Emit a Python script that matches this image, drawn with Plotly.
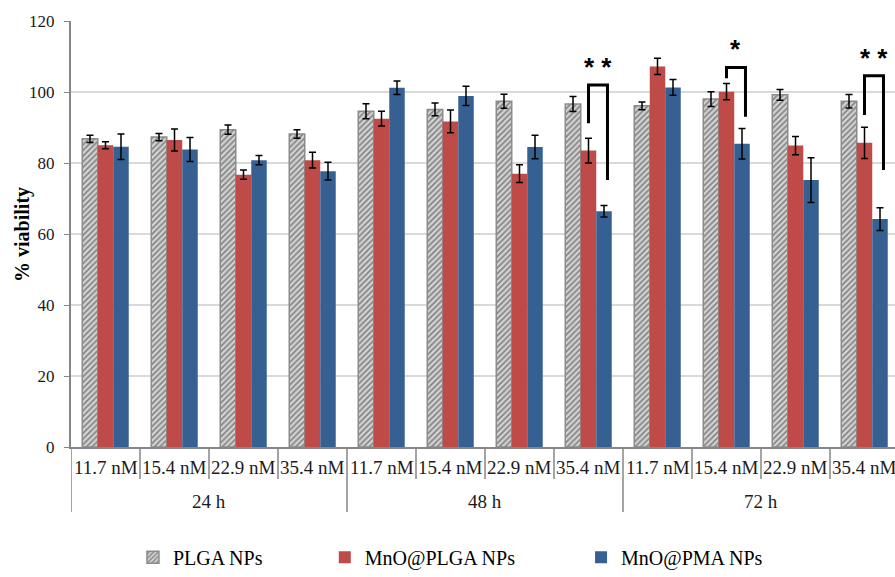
import plotly.graph_objects as go

# ---------------- data ----------------
categories = ["11.7 nM", "15.4 nM", "22.9 nM", "35.4 nM"] * 3
groups = ["24 h", "48 h", "72 h"]
per_group = 4

series_names = ["PLGA NPs", "MnO@PLGA NPs", "MnO@PMA NPs"]
plga = [86.8, 87.3, 89.4, 88.2, 94.6, 95.1, 97.4, 96.6, 96.1, 98.0, 99.2, 97.4]
plga_err = [1.0, 1.0, 1.3, 1.2, 2.1, 1.8, 2.0, 2.1, 1.1, 2.1, 1.5, 1.9]
mno_plga = [85.0, 86.5, 76.7, 80.8, 92.5, 91.7, 77.0, 83.5, 107.2, 100.1, 84.9, 85.7]
mno_plga_err = [1.0, 3.1, 1.3, 2.2, 2.1, 3.2, 2.5, 3.5, 2.3, 2.3, 2.6, 4.4]
mno_pma = [84.6, 83.8, 80.8, 77.7, 101.2, 98.9, 84.5, 66.4, 101.3, 85.4, 75.2, 64.2]
mno_pma_err = [3.6, 3.4, 1.3, 2.5, 1.9, 2.7, 3.3, 1.6, 2.2, 4.3, 6.3, 3.2]

y_ticks = [0, 20, 40, 60, 80, 100, 120]

# significance brackets: (category index, left-leg bottom, top, right-leg bottom, label)
sig_idx = [7, 9, 11]
sig_left = [91.2, 103.9, 93.5]
sig_top = [102.0, 106.9, 104.6]
sig_right = [75.2, 93.0, 78.0]
sig_label = ["* *", "*", "* *"]

# ---------------- figure ----------------
x = list(range(len(categories)))
SERIF = "Liberation Serif, Times New Roman, serif"
fig = go.Figure()

fig.add_trace(go.Bar(
    x=x, y=plga, name=series_names[0], legend="legend",
    marker=dict(color="#d4d4d4",
                pattern=dict(shape="/", fgcolor="#333333", bgcolor="#d4d4d4", size=4, solidity=0.45),
                line=dict(color="#8c8c8c", width=1.5)),
    error_y=dict(type="data", array=plga_err, color="black", thickness=1.5, width=3.5),
))
fig.add_trace(go.Bar(
    x=x, y=mno_plga, name=series_names[1], legend="legend2",
    marker=dict(color="#BE4B48", line=dict(width=0)),
    error_y=dict(type="data", array=mno_plga_err, color="black", thickness=1.5, width=3.5),
))
fig.add_trace(go.Bar(
    x=x, y=mno_pma, name=series_names[2], legend="legend3",
    marker=dict(color="#376092", line=dict(width=0)),
    error_y=dict(type="data", array=mno_pma_err, color="black", thickness=1.5, width=3.5),
))

n = len(categories)
shapes = []
annotations = []
# inner category separators and labels
for i in range(n):
    b = i - 0.5
    if i % per_group != 0:
        shapes.append(dict(type="line", xref="x", yref="paper", x0=b, x1=b, y0=0, y1=-0.0751,
                           line=dict(color="#868686", width=1.5)))
    annotations.append(dict(x=i, y=-0.049, xref="x", yref="paper", text=categories[i],
                            showarrow=False, yanchor="middle", xanchor="center",
                            font=dict(family=SERIF, size=19, color="#1a1a1a")))
# group dividers and labels
for g in range(len(groups) + 1):
    b = g * per_group - 0.5
    shapes.append(dict(type="line", xref="x", yref="paper", x0=b, x1=b, y0=0, y1=-0.1526,
                       line=dict(color="#868686", width=1.5)))
for g, name in enumerate(groups):
    annotations.append(dict(x=g * per_group + (per_group - 1) / 2, y=-0.129, xref="x", yref="paper",
                            text=name, showarrow=False, yanchor="middle", xanchor="center",
                            font=dict(family=SERIF, size=19, color="#1a1a1a")))

# significance brackets
for k in range(len(sig_idx)):
    i = sig_idx[k]
    xl, xr = i, i + 0.275
    shapes.append(dict(type="path", xref="x", yref="y",
                       path=f"M {xl},{sig_left[k]} L {xl},{sig_top[k]} L {xr},{sig_top[k]} L {xr},{sig_right[k]}",
                       line=dict(color="black", width=3)))
    annotations.append(dict(x=(xl + xr) / 2, y=sig_top[k] + 0.3, xref="x", yref="y",
                            text="<b>" + sig_label[k] + "</b>", showarrow=False, yanchor="bottom",
                            xanchor="center",
                            font=dict(family="Liberation Sans, Arial, sans-serif", size=26, color="black")))

# y axis title
annotations.append(dict(x=-0.0595, y=0.5, xref="paper", yref="paper", text="<b>% viability</b>",
                        textangle=-90, showarrow=False, xanchor="center", yanchor="middle",
                        font=dict(family=SERIF, size=20, color="black")))

legend_common = dict(orientation="h", yanchor="bottom", y=-0.3045, xanchor="left",
                     bgcolor="rgba(0,0,0,0)", borderwidth=0,
                     font=dict(family=SERIF, size=20, color="black"))

fig.update_layout(
    width=895, height=577,
    margin=dict(l=71, r=0, t=21, b=130, autoexpand=False),
    paper_bgcolor="white", plot_bgcolor="white",
    barmode="group", bargap=0.326, bargroupgap=0,
    font=dict(family=SERIF, size=17, color="#1a1a1a"),
    showlegend=True,
    legend=dict(x=0.0752, **legend_common),
    legend2=dict(x=0.308, **legend_common),
    legend3=dict(x=0.619, **legend_common),
    xaxis=dict(range=[-0.5, 11.442], showticklabels=False, ticks="", showgrid=False,
               zeroline=False, showline=True, linecolor="#868686", linewidth=2, automargin=False),
    yaxis=dict(range=[0, 120], tickvals=y_ticks, showgrid=True, gridcolor="#d9d9d9", gridwidth=1.5,
               zeroline=False, showline=True, linecolor="#868686", linewidth=2,
               ticks="outside", ticklen=5, tickcolor="#868686", tickwidth=1, automargin=False,
               tickfont=dict(family=SERIF, size=17, color="#1a1a1a"), ticklabelstandoff=6),
    shapes=shapes,
    annotations=annotations,
)

fig.write_html("out.html", config={"displayModeBar": False},
               post_script="document.body.style.margin='0';document.body.style.overflow='hidden';")
